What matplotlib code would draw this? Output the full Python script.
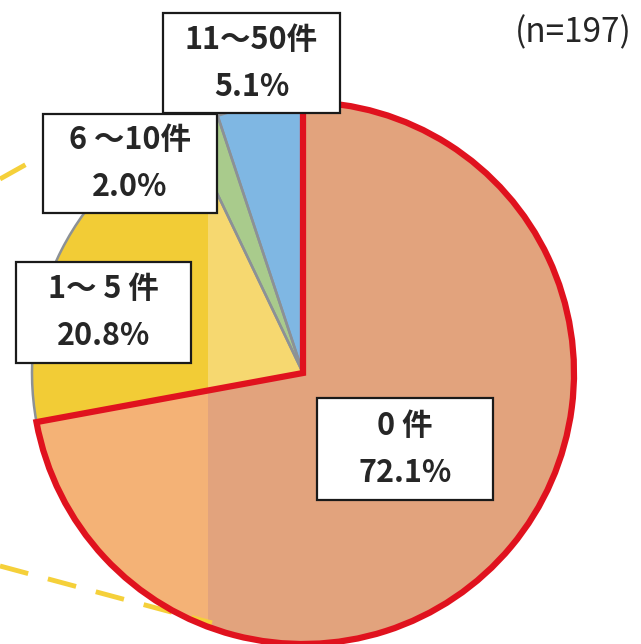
import matplotlib.pyplot as plt
from matplotlib.patches import Rectangle
from matplotlib.path import Path
from matplotlib.transforms import Affine2D

plt.rcParams['font.family'] = ['Noto Sans CJK JP', 'DejaVu Sans']

# data
labels = ["0 件", "1〜 5 件", "6 〜10件", "11〜50件"]
shares = [72.1, 20.8, 2.0, 5.1]
n_total = 197

# colours (scan is more saturated on the left strip)
colors_main = ["#E2A37D", "#F6D870", "#A9CB8C", "#7FB7E3"]
colors_left = ["#F4B276", "#F2CC36", "#A9CB8C", "#7FB7E3"]
edge_colors = ["#E0121E", "#8C9196", "#8C9196", "#8C9196"]

W, H = 641, 644
CENTER = (303, H - 373)
RADIUS = 271
STRIP_X = 208

# label boxes in pixel coords: left, top, width, height
label_boxes = [(317, 398, 176, 102), (16, 262, 175, 101),
               (43, 114, 174, 99), (163, 13, 177, 100)]

fig = plt.figure(figsize=(W / 100, H / 100), dpi=100)
ax = fig.add_axes([0, 0, 1, 1])
ax.set_xlim(0, W)
ax.set_ylim(0, H)

pie_kw = dict(startangle=90, counterclock=False, center=CENTER, radius=RADIUS,
              frame=True)

# pass 1: main colours, no edges
w1, _ = ax.pie(shares, colors=colors_main, wedgeprops=dict(linewidth=0), **pie_kw)

# pass 2: left-strip colours clipped to x < STRIP_X
w2, _ = ax.pie(shares, colors=colors_left, wedgeprops=dict(linewidth=0), **pie_kw)
strip = Path.unit_rectangle()
strip_tr = Affine2D().scale(STRIP_X, H) + ax.transData
for w in w2:
    w.set_clip_on(True)
    w.set_clip_path(strip, strip_tr)
    w.set_zorder(1.5)

# pass 3: outlines only
w3, _ = ax.pie(shares, colors=["none"] * 4, **pie_kw)
for i, w in enumerate(w3):
    w.set_facecolor("none")
    w.set_edgecolor(edge_colors[i])
    w.set_linewidth(4.5 if i == 0 else 1.8)
    w.set_zorder(4 if i == 0 else 3)
    w.set_joinstyle("miter")

# connector lines to the (cropped) secondary chart
ax.plot([0, 100], [H - 179, H - 123], color="#F5D03A", lw=3.5,
        dashes=(6, 5), zorder=2.5)
ax.plot([0, 212], [H - 566, H - 623], color="#F5D03A", lw=3.5,
        dashes=(6, 4.2), zorder=2.5)

for lab, val, (x, y, bw, bh) in zip(labels, shares, label_boxes):
    ax.add_patch(Rectangle((x, H - y - bh), bw, bh, facecolor="white",
                           edgecolor="#1A1A1A", linewidth=1.6, zorder=5))
    ax.text(x + bw / 2, H - y - bh / 2, f"{lab}\n{val:.1f}%", ha="center",
            va="center", fontsize=22, fontweight="bold", color="#262626",
            linespacing=1.6, zorder=6)

ax.text(573, H - 33, f"(n={n_total})", ha="center", va="center",
        fontsize=24, color="#262626")

ax.set_xlim(0, W)
ax.set_ylim(0, H)
ax.set_aspect("equal")
ax.axis("off")

fig.savefig("out.png", dpi=100)
